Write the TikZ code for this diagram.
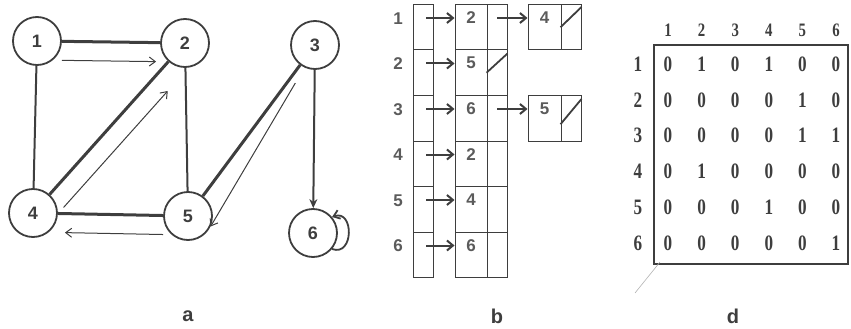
\documentclass[tikz,border=0pt]{standalone}
\usepackage{fontspec}
\setmainfont{Liberation Sans}
\newfontfamily\matfont{Liberation Serif}
\usepackage{graphicx}
\usepackage{xcolor}
\usepackage{tikz}
\usetikzlibrary{arrows.meta,positioning,calc}
\definecolor{ink}{RGB}{62,62,62}
\newcommand\narrow[1]{\scalebox{0.78}[1]{#1}}

\begin{document}
\begin{tikzpicture}[
    x=1pt, y=1pt, color=ink,
    vtx/.style={draw, circle, line width=1.8pt, minimum size=48pt, inner sep=0pt, font=\bfseries\fontsize{18}{21}\selectfont},
    edge/.style={line width=2pt},
    heavy/.style={line width=3pt},
    tarr/.style={-{Straight Barb[length=6pt,width=9pt]}, line width=1pt},
    cell/.style={draw, line width=1pt, minimum height=45.5pt, inner sep=0pt, font=\bfseries\fontsize{17}{20}\selectfont, text=ink!85},
    datcell/.style={cell, text height=19pt, text depth=26.5pt},
    larr/.style={-{Straight Barb[length=6pt,width=10pt]}, line width=2pt},
    nil/.style={line width=1.8pt},
    mat/.style={font=\matfont\bfseries\fontsize{22}{24}\selectfont},
    figcap/.style={font=\bfseries\fontsize{20}{22}\selectfont}
  ]
    \useasboundingbox (0,0) rectangle (851,-329);

    %% ---- a: the graph ----
    \node[vtx] (n1) at (37,-41)  {1};
    \node[vtx] (n2) at (185,-43) {2};
    \node[vtx] (n3) at (315,-45) {3};
    \node[vtx] (n4) at (33,-213) {4};
    \node[vtx] (n5) at (188,-216) {5};
    \node[vtx] (n6) at (313,-233) {6};

    \draw[heavy] (n1) -- (n2);
    \draw[edge]  (n1) -- (n4);
    \draw[edge]  (n2) -- (n5);
    \draw[heavy] (n4) -- (n2);
    \draw[heavy] (n4) -- (n5);
    \draw[heavy] (n3) -- (n5);
    \draw[edge, -{Stealth[length=9pt,width=8pt]}] (n3) -- (n6);
    % directed copies beside the edges
    \draw[tarr, shorten >=4pt, transform canvas={yshift=-19pt}] (n1) -- (n2);
    \draw[tarr, shorten >=22pt, transform canvas={shift={(14pt,-13pt)}}] (n4) -- (n2);
    \draw[tarr, shorten >=7pt, transform canvas={yshift=-19pt}] (n5) -- (n4);
    \draw[tarr, shorten <=18pt] (n3.-115) -- (n5.-25);
    \draw[tarr, line width=1.8pt] (n6.-40) .. controls +(22,-8) and +(22,8) .. (n6.40);

    \node[figcap] (capa) at (188,-316) {a};

    %% ---- b: adjacency lists ----
    \foreach \i/\v in {1/2,2/5,3/6,4/2,5/4,6/6} {
      \node[cell, minimum width=20pt] (idx\i) at (423,{-4.5-45.5*(\i-0.5)}) {};
      \node[datcell, minimum width=32pt] (dat\i) at (471,{-4.5-45.5*(\i-0.5)}) {\v};
      \node[cell, minimum width=20pt] (ptr\i) at (497,{-4.5-45.5*(\i-0.5)}) {};
      \node[font=\bfseries\fontsize{17}{20}\selectfont, text=ink!85] (row\i) at (398,{-18.5-45.5*(\i-1)}) {\i};
      \draw[larr] ([xshift=3pt,yshift=-14pt]idx\i.north) -- ([yshift=-14pt]dat\i.north west);
    }
    \node[datcell, minimum width=33pt] (nxt1) at (544.5,-27.25) {4};
    \node[cell, minimum width=20pt] (nxp1) at (571,-27.25) {};
    \node[datcell, minimum width=33pt] (nxt3) at (544.5,-118.25) {5};
    \node[cell, minimum width=20pt] (nxp3) at (571,-118.25) {};

    \draw[larr] ([yshift=-14pt]ptr1.north) -- ([yshift=-14pt]nxt1.north west);
    \draw[larr] ([yshift=-14pt]ptr3.north) -- ([yshift=-14pt]nxt3.north west);
    % end of list
    \draw[nil] (ptr2.west) -- ([yshift=-4pt]ptr2.north east);
    \draw[nil] (nxp1.west) -- ([yshift=-3pt]nxp1.north east);
    \draw[nil] ([yshift=-6pt]nxp3.west) -- ([yshift=-4pt]nxp3.north east);

    \node[figcap] (capb) at (497,-316) {b};

    %% ---- d: adjacency matrix ----
    \draw[line width=2pt] (654,-45) rectangle (848,-264);
    \draw[gray!60, line width=0.6pt] (660,-262) -- (635,-293);
    \foreach \c in {1,...,6}
      \node[mat, font=\matfont\bfseries\fontsize{19}{21}\selectfont] (hdr\c) at ({668+33.6*(\c-1)},-30) {\narrow{\c}};
    \foreach \r/\vals in {1/{0,1,0,1,0,0},2/{0,0,0,0,1,0},3/{0,0,0,0,1,1},
                          4/{0,1,0,0,0,0},5/{0,0,0,1,0,0},6/{0,0,0,0,0,1}} {
      \node[mat] (mrow\r) at (638,{-64-35.8*(\r-1)}) {\narrow{\r}};
      \foreach \v [count=\c] in \vals
        \node[mat] (m\r\c) at ({668+33.6*(\c-1)},{-64-35.8*(\r-1)}) {\narrow{\v}};
    }

    \node[figcap] (capd) at (733,-316) {d};
  \end{tikzpicture}
\end{document}
